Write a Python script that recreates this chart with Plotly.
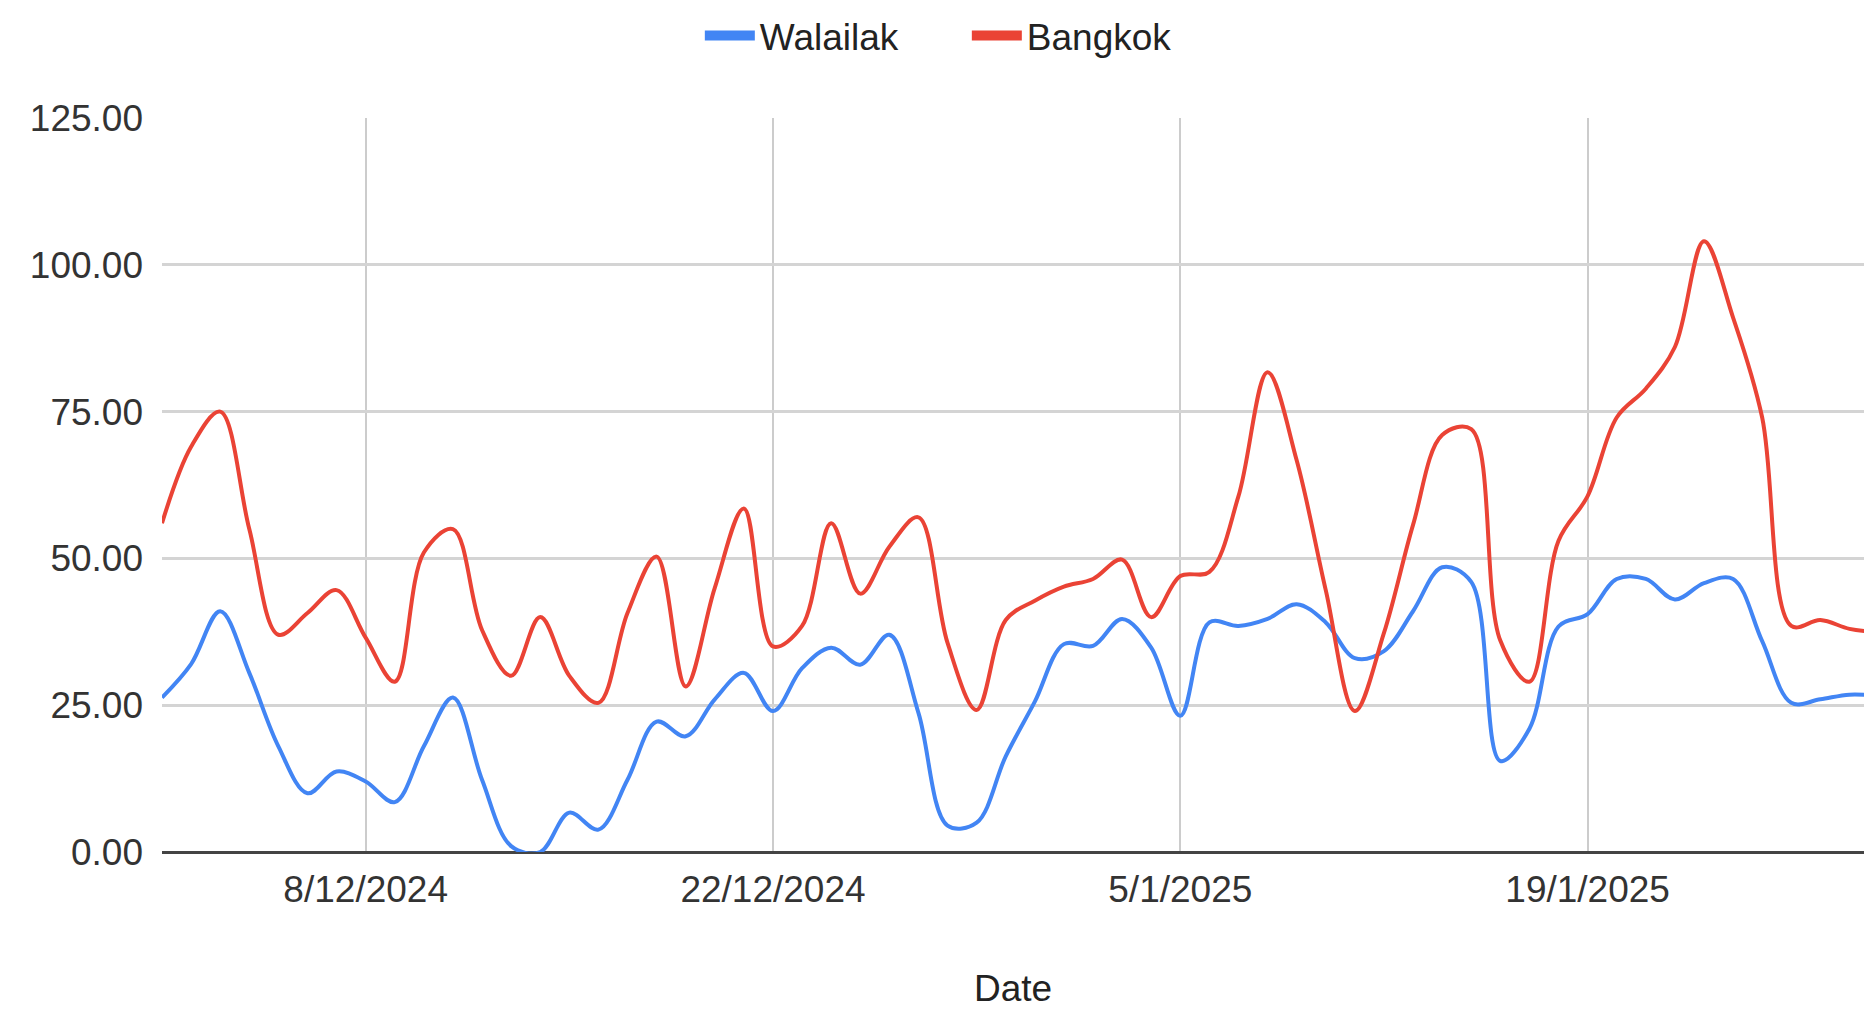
import datetime as dt
import plotly.graph_objects as go

start = dt.date(2024, 12, 1)

walailak = [26.3, 32, 41, 30.5, 18, 10, 13.7, 12, 8.5, 18,
            26.3, 12.3, 1, 0, 6.7, 3.8, 12.3, 22.2, 19.7, 26,
            30.5, 24, 31.3, 34.8, 31.9, 37, 23.7, 4.5, 5, 16.3,
            25.6, 35.4, 35.1, 39.7, 34.8, 23.2, 39.1, 38.5, 39.7, 42.2,
            39.1, 33, 34.2, 41, 48.5, 46, 15.5, 21, 38.4, 40.5,
            46.5, 46.5, 43, 45.8, 46.5, 35.9, 25.4, 26, 26.8, 26.6]

bangkok = [56, 69, 75, 55, 37, 40.7, 44.6, 36.5, 29, 51,
           55, 37.8, 30, 40, 30, 25.4, 40.7, 50.3, 28.2, 45,
           58.5, 35, 38.5, 56, 44, 52, 57, 35.6, 24.2, 39.5,
           42.8, 45.2, 46.5, 49.8, 40, 47, 47.7, 60.6, 81.7, 66.7,
           44.6, 24, 37.3, 55.7, 71, 72, 36, 29, 53, 60.6,
           74, 78.9, 86, 104, 91, 74, 38.5, 39.5, 38, 37.4]

dates = [start + dt.timedelta(days=i) for i in range(len(walailak))]

tick_dates = [dt.date(2024, 12, 8), dt.date(2024, 12, 22), dt.date(2025, 1, 5), dt.date(2025, 1, 19)]
tick_labels = ["8/12/2024", "22/12/2024", "5/1/2025", "19/1/2025"]
y_ticks = [0, 25, 50, 75, 100, 125]
y_labels = ["0.00", "25.00", "50.00", "75.00", "100.00", "125.00"]

BLUE = "#4285F4"
RED = "#EA4335"
FONT = "Arial, Liberation Sans, sans-serif"

fig = go.Figure()
fig.add_trace(go.Scatter(x=dates, y=walailak, name="Walailak", mode="lines", showlegend=False,
                         line=dict(color=BLUE, width=4, shape="spline", smoothing=1)))
fig.add_trace(go.Scatter(x=dates, y=bangkok, name="Bangkok", mode="lines", showlegend=False,
                         line=dict(color=RED, width=4, shape="spline", smoothing=1)))
# legend entries (thick swatches like the reference)
fig.add_trace(go.Scatter(x=[None], y=[None], name="Walailak", mode="lines",
                         line=dict(color=BLUE, width=11)))
fig.add_trace(go.Scatter(x=[None], y=[None], name="Bangkok", mode="lines",
                         line=dict(color=RED, width=11)))

fig.update_layout(
    width=1864, height=1009,
    margin=dict(l=162, r=0, t=118, b=157),
    paper_bgcolor="white", plot_bgcolor="white",
    font=dict(family=FONT, size=37, color="#222222"),
    showlegend=True,
    legend=dict(orientation="h", x=0.316, xref="paper", xanchor="left", y=0.995, yref="container",
                yanchor="top", font=dict(size=37, color="#222222"),
                itemwidth=50, entrywidth=202, entrywidthmode="pixels",
                bgcolor="rgba(0,0,0,0)"),
    xaxis=dict(
        range=[dt.datetime(2024, 12, 1), dt.datetime(2025, 1, 28, 12)],
        tickvals=tick_dates, ticktext=tick_labels,
        showgrid=True, gridcolor="#cccccc", gridwidth=2,
        showline=False, zeroline=False, ticks="",
        ticklabelstandoff=12,
        tickfont=dict(size=37, color="#333333"),
        title=dict(text="Date", font=dict(size=37, color="#222222"), standoff=66),
    ),
    yaxis=dict(
        range=[0, 125],
        tickvals=y_ticks, ticktext=y_labels,
        showgrid=True, gridcolor="#d4d4d4", gridwidth=3,
        zeroline=True, zerolinecolor="#444444", zerolinewidth=3,
        showline=False, ticks="",
        ticklabelstandoff=18,
        tickfont=dict(size=37, color="#333333"),
    ),
)

fig.write_html("out.html")
